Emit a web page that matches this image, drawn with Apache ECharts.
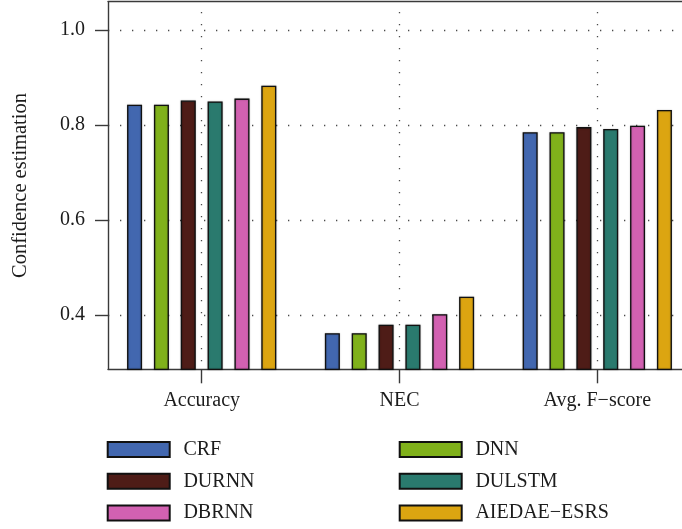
<!DOCTYPE html>
<html>
<head>
<meta charset="utf-8">
<script src="https://cdn.jsdelivr.net/npm/echarts@6/dist/echarts.min.js"></script>
<style>
  html, body { margin: 0; padding: 0; background: #fff; }
  #chart { width: 682px; height: 529px; }
</style>
</head>
<body>
<div id="chart"></div>
<script>
// Metric groups along the x axis
const categories = ['Accuracy', 'NEC', 'Avg. F\u2212score'];

// Methods, in bar order within each group
const methods = ['CRF', 'DNN', 'DURNN', 'DULSTM', 'DBRNN', 'AIEDAE\u2212ESRS'];

// Scores per method: [Accuracy, NEC, Avg. F-score]
const crf      = [0.843, 0.362, 0.785];
const dnn      = [0.843, 0.362, 0.785];
const durnn    = [0.852, 0.380, 0.796];
const dulstm   = [0.850, 0.380, 0.792];
const dbrnn    = [0.856, 0.402, 0.799];
const aiedae   = [0.883, 0.439, 0.832];

// Y axis tick labels
const yTicks = [0.4, 0.6, 0.8, 1.0];

const seriesValues = [crf, dnn, durnn, dulstm, dbrnn, aiedae];
const colors = ['#4267AF', '#80B11B', '#4E1C17', '#2A7A6E', '#D261B1', '#DCA511'];

const FONT = 'Liberation Serif';
const TEXT = '#1c1c1c';
const AXIS = '#3a3a3a';
const Y_MIN = 0.286, Y_MAX = 1.06;
const dotted = { color: '#4a4a4a', width: 1.3, type: [1.3, 10.7] };

const chart = echarts.init(document.getElementById('chart'), null, { renderer: 'canvas' });

const series = seriesValues.map((vals, i) => ({
  name: methods[i],
  type: 'bar',
  xAxisIndex: 0,
  yAxisIndex: 0,
  data: vals,
  barWidth: 15,
  barGap: '79%',
  itemStyle: {
    color: colors[i],
    borderColor: '#111',
    borderWidth: 1.3,
    shadowColor: 'rgba(0,0,0,0.35)',
    shadowBlur: 1.5
  },
  emphasis: { disabled: true },
  animation: false,
  z: 3
}));

// vertical dotted guides at each group centre (carried by an empty line series)
series.push({
  name: 'guides',
  type: 'line',
  xAxisIndex: 0,
  yAxisIndex: 0,
  data: [],
  silent: true,
  markLine: {
    silent: true,
    symbol: 'none',
    label: { show: false },
    lineStyle: Object.assign({ dashOffset: 4 }, dotted),
    data: categories.map(c => ({ xAxis: c })),
    animation: false
  }
});

const legendText = { color: TEXT, fontFamily: FONT, fontSize: 20, padding: [0, 0, 0, 8.7] };

const option = {
  backgroundColor: '#fff',
  animation: false,
  grid: [
    // bars and category axis
    { left: 102.8, right: -14.2, top: 1.7, bottom: 159.7, outerBoundsMode: 'none', containLabel: false },
    // frame, value axis labels and horizontal guides
    { left: 108, right: -4, top: 1.7, bottom: 159.7, outerBoundsMode: 'none', containLabel: false }
  ],
  xAxis: [
    {
      type: 'category',
      gridIndex: 0,
      data: categories,
      boundaryGap: true,
      axisLine: { show: false },
      axisTick: { show: true, alignWithLabel: true, length: 14, lineStyle: { color: AXIS, width: 1.4 } },
      axisLabel: { color: TEXT, fontFamily: FONT, fontSize: 20, margin: 21 },
      splitLine: { show: false }
    },
    {
      type: 'value',
      gridIndex: 1,
      position: 'bottom',
      axisLine: { show: true, lineStyle: { color: AXIS, width: 1.4 } },
      axisTick: { show: false },
      axisLabel: { show: false },
      splitLine: { show: false }
    },
    {
      type: 'value',
      gridIndex: 1,
      position: 'top',
      axisLine: { show: true, lineStyle: { color: AXIS, width: 1.4 } },
      axisTick: { show: false },
      axisLabel: { show: false },
      splitLine: { show: false }
    }
  ],
  yAxis: [
    {
      type: 'value',
      gridIndex: 0,
      min: Y_MIN,
      max: Y_MAX,
      show: false
    },
    {
      type: 'value',
      gridIndex: 1,
      min: Y_MIN,
      max: Y_MAX,
      name: 'Confidence estimation',
      nameLocation: 'middle',
      nameGap: 77,
      nameTextStyle: { color: TEXT, fontFamily: FONT, fontSize: 20.5 },
      axisLine: { show: true, lineStyle: { color: AXIS, width: 1.4 } },
      axisTick: { show: true, length: 13, customValues: yTicks, lineStyle: { color: AXIS, width: 1.4 } },
      axisLabel: {
        customValues: yTicks,
        color: TEXT, fontFamily: FONT, fontSize: 20, margin: 23,
        formatter: v => v.toFixed(1)
      },
      splitLine: { show: true, lineStyle: Object.assign({}, dotted) }
    }
  ],
  legend: [
    {
      data: [methods[0], methods[2], methods[4]],
      orient: 'vertical',
      left: 106.7,
      top: 439.5,
      padding: 0,
      icon: 'rect',
      itemWidth: 62,
      itemHeight: 15,
      itemGap: 11.8,
      selectedMode: false,
      textStyle: legendText
    },
    {
      data: [methods[1], methods[3], methods[5]],
      orient: 'vertical',
      left: 398.7,
      top: 439.5,
      padding: 0,
      icon: 'rect',
      itemWidth: 62,
      itemHeight: 15,
      itemGap: 11.8,
      selectedMode: false,
      textStyle: legendText
    }
  ],
  series: series
};

chart.setOption(option);
</script>
</body>
</html>
